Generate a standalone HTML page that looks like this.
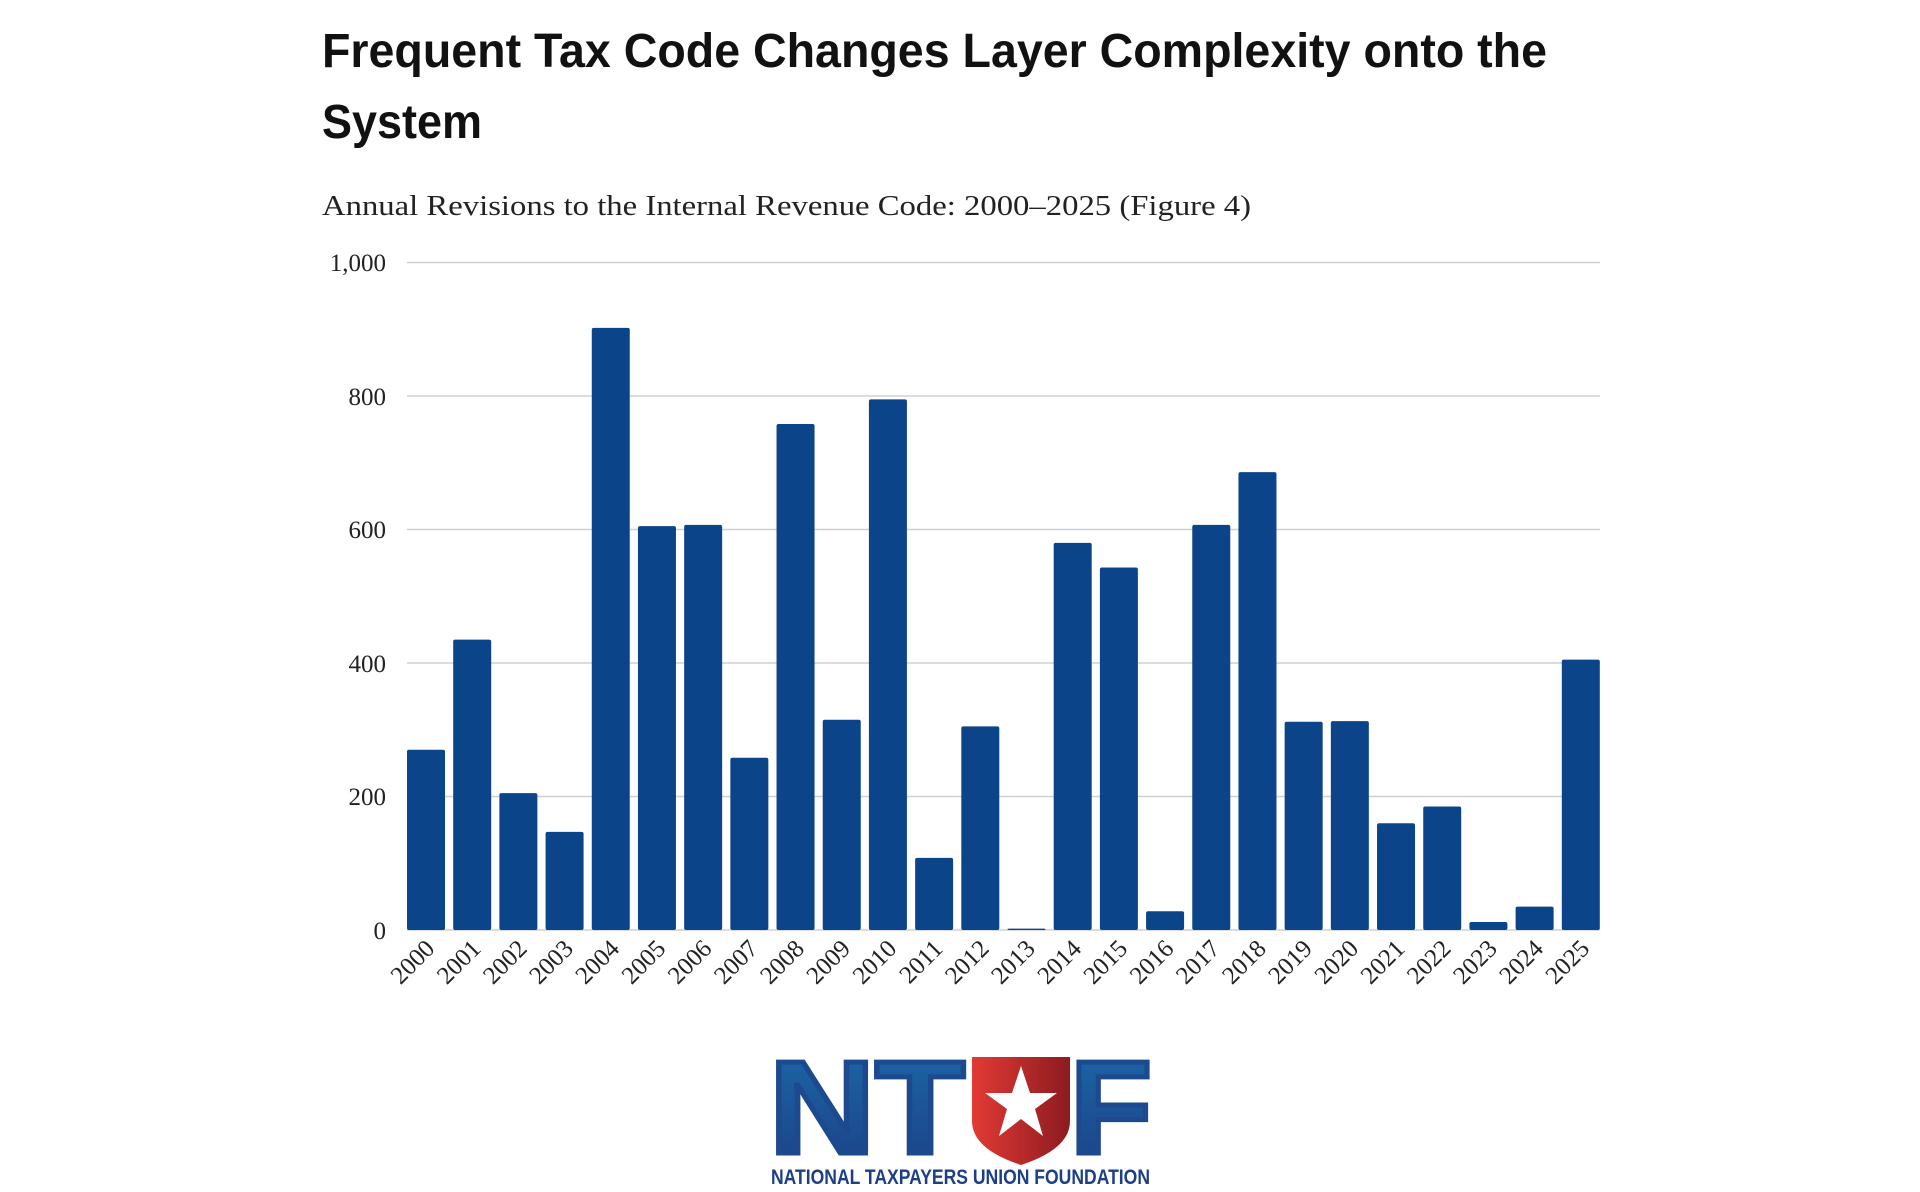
<!DOCTYPE html>
<html><head><meta charset="utf-8"><style>
html,body{margin:0;padding:0;background:#fff;}
svg{display:block;}
</style></head><body>
<svg width="1920" height="1192" viewBox="0 0 1920 1192" xmlns="http://www.w3.org/2000/svg">
<text x="322" y="67" font-family="Liberation Sans, sans-serif" font-weight="bold" font-size="48" fill="#111" textLength="1225" lengthAdjust="spacingAndGlyphs">Frequent Tax Code Changes Layer Complexity onto the</text>
<text x="322" y="138" font-family="Liberation Sans, sans-serif" font-weight="bold" font-size="48" fill="#111" textLength="160" lengthAdjust="spacingAndGlyphs">System</text>
<text x="322" y="215" font-family="Liberation Serif, serif" font-size="29" fill="#222" textLength="929" lengthAdjust="spacingAndGlyphs">Annual Revisions to the Internal Revenue Code: 2000–2025 (Figure 4)</text>
<g stroke="#d0d0d0" stroke-width="1.5">
<line x1="407" x2="1600" y1="262.5" y2="262.5"/>
<line x1="407" x2="1600" y1="396" y2="396"/>
<line x1="407" x2="1600" y1="529.5" y2="529.5"/>
<line x1="407" x2="1600" y1="663" y2="663"/>
<line x1="407" x2="1600" y1="796.5" y2="796.5"/>
<line x1="407" x2="1600" y1="930" y2="930"/>
</g>
<g font-family="Liberation Serif, serif" font-size="25" fill="#222" text-anchor="end">
<text x="386" y="271">1,000</text>
<text x="386" y="405">800</text>
<text x="386" y="538">600</text>
<text x="386" y="672">400</text>
<text x="386" y="805">200</text>
<text x="386" y="939">0</text>
</g>
<g id="bars" fill="#0c4489"></g>
<g id="xl" font-family="Liberation Serif, serif" font-size="25" fill="#222" text-anchor="end"></g>
<script>
var v=[270,435,205,147,902,605,607,258,758,315,795,108,305,2,580,543,28,607,686,312,313,160,185,12,35,405];
var b=document.getElementById('bars'),xl=document.getElementById('xl'),ns='http://www.w3.org/2000/svg';
var slot=(1600-407+8)/26;
for(var i=0;i<26;i++){
 var x=407+i*slot, w=38, h=v[i]*0.6675, y=930-h;
 var r=document.createElementNS(ns,'rect');
 r.setAttribute('x',x);r.setAttribute('y',y);r.setAttribute('width',w);r.setAttribute('height',h);r.setAttribute('rx',2);
 b.appendChild(r);
 var t=document.createElementNS(ns,'text');
 var cx=x+w/2+10, cy=950;
 t.setAttribute('x',cx);t.setAttribute('y',cy);
 t.setAttribute('transform','rotate(-45 '+cx+' '+cy+')');
 t.textContent=2000+i;xl.appendChild(t);
}
</script>
<defs>
<linearGradient id="bl" x1="0" y1="0" x2="0" y2="1"><stop offset="0" stop-color="#1a6aa8"/><stop offset="1" stop-color="#1d3f86"/></linearGradient>
<linearGradient id="rd" x1="0" y1="0" x2="1" y2="0"><stop offset="0" stop-color="#e33a34"/><stop offset="1" stop-color="#8c1b20"/></linearGradient>
</defs>
<text x="769" y="1153" font-family="Liberation Sans, sans-serif" font-weight="900" font-size="132" fill="url(#bl)" stroke="#1d4a8f" stroke-width="5" textLength="196" lengthAdjust="spacingAndGlyphs">NT</text>
<path d="M972 1057 h98 v64 q0 28 -49 44 q-49 -16 -49 -44z" fill="url(#rd)"/>
<polygon points="1021,1066 1030,1093 1057,1093 1035,1109 1043,1136 1021,1119 999,1136 1007,1109 985,1093 1012,1093" fill="#fff"/>
<text x="1070" y="1153" font-family="Liberation Sans, sans-serif" font-weight="900" font-size="132" fill="url(#bl)" stroke="#1d4a8f" stroke-width="5" textLength="82" lengthAdjust="spacingAndGlyphs">F</text>
<text x="771" y="1184" font-family="Liberation Sans, sans-serif" font-weight="bold" font-size="21" fill="#1d3f86" textLength="379" lengthAdjust="spacingAndGlyphs">NATIONAL TAXPAYERS UNION FOUNDATION</text>
</svg>
</body></html>
